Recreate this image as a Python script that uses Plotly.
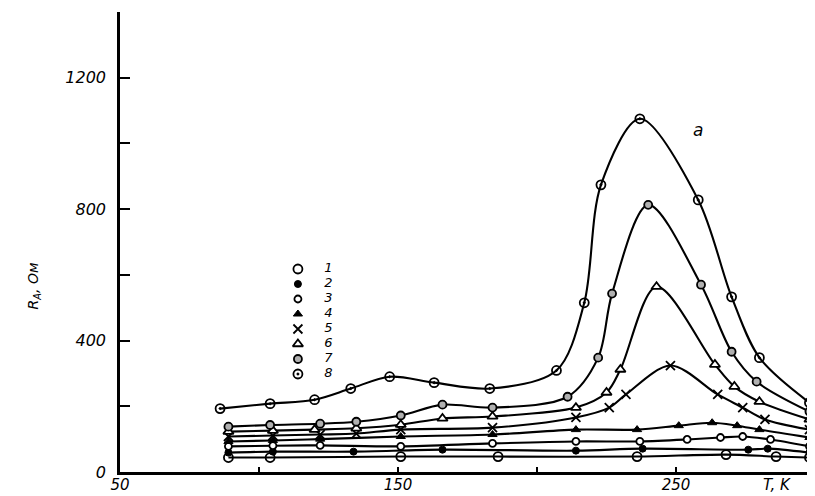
import plotly.graph_objects as go

# ---- data (T in K, R_A in Ohm) ----
T1 = [89, 104, 151, 186, 236, 268, 286, 298]
R1 = [44, 44, 47, 47, 47, 53, 47, 44]

T2 = [89, 105, 134, 166, 214, 238, 276, 283, 298]
R2 = [59, 62, 62, 68, 65, 71, 68, 71, 59]

T3 = [89, 105, 122, 151, 184, 214, 237, 254, 266, 274, 284, 298]
R3 = [78, 80, 81, 78, 87, 93, 93, 99, 105, 108, 99, 78]

T4 = [89, 105, 122, 151, 184, 214, 236, 251, 263, 272, 280, 298]
R4 = [93, 96, 100, 108, 114, 129, 129, 141, 150, 141, 129, 105]

T5 = [89, 105, 122, 135, 151, 184, 214, 226, 232, 248, 265, 274, 282, 298]
R5 = [108, 111, 114, 117, 129, 135, 166, 196, 236, 324, 236, 196, 160, 129]

T6 = [89, 105, 120, 135, 151, 166, 184, 214, 225, 230, 243, 264, 271, 280, 298]
R6 = [123, 126, 129, 133, 144, 163, 169, 196, 242, 312, 564, 327, 260, 214, 160]

T7 = [89, 104, 122, 135, 151, 166, 184, 211, 222, 227, 240, 259, 270, 279, 298]
R7 = [138, 143, 147, 153, 172, 205, 196, 229, 348, 543, 813, 570, 366, 275, 184]

T8 = [86, 104, 120, 133, 147, 163, 183, 207, 217, 223, 237, 258, 270, 280, 298]
R8 = [193, 208, 220, 254, 290, 272, 254, 309, 515, 874, 1075, 828, 533, 348, 211]

curve_labels = ["1", "2", "3", "4", "5", "6", "7", "8"]
x_tickvals = [50, 100, 150, 200, 250, 300]
x_ticktext = ["50", "", "150", "", "250", ""]
y_tickvals = [0, 200, 400, 600, 800, 1000, 1200, 1400]
y_ticktext = ["0", "", "400", "", "800", "", "1200", ""]

# ---- styles ----
series = [(T1, R1), (T2, R2), (T3, R3), (T4, R4), (T5, R5), (T6, R6), (T7, R7), (T8, R8)]
styles = [
    dict(symbol="circle-open", size=9, color="black", line=dict(color="black", width=1.8)),
    dict(symbol="circle", size=7, color="black", line=dict(color="black", width=1)),
    dict(symbol="circle", size=7, color="white", line=dict(color="black", width=1.8)),
    dict(symbol="triangle-up", size=8, color="black", line=dict(color="black", width=1)),
    dict(symbol="x-thin", size=9, color="black", line=dict(color="black", width=1.8)),
    dict(symbol="triangle-up", size=9, color="white", line=dict(color="black", width=1.8)),
    dict(symbol="circle", size=8, color="#b0b0b0", line=dict(color="black", width=1.8)),
    dict(symbol="circle-open-dot", size=9, color="black", line=dict(color="black", width=1.8)),
]

FONT = "DejaVu Sans"
fig = go.Figure()

for (tx, ry), st, lab in zip(series, styles, curve_labels):
    fig.add_trace(go.Scatter(
        x=tx, y=ry, mode="lines+markers", name=lab, showlegend=False,
        line=dict(color="black", width=2.1, shape="spline", smoothing=0.9),
        marker=st, cliponaxis=False,
    ))

# legend key drawn on hidden helper axes (axes fractions)
leg_x_sym = 0.256
leg_x_txt = 0.300
leg_y = [(460 - (257 + 15 * i)) / 460 for i in range(len(curve_labels))]
for i, (st, lab) in enumerate(zip(styles, curve_labels)):
    fig.add_trace(go.Scatter(
        x=[leg_x_sym], y=[leg_y[i]], xaxis="x2", yaxis="y2", mode="markers",
        marker=st, showlegend=False, hoverinfo="skip",
    ))
fig.add_trace(go.Scatter(
    x=[leg_x_txt] * len(curve_labels), y=leg_y, xaxis="x2", yaxis="y2",
    mode="text", text=curve_labels, showlegend=False, hoverinfo="skip",
    textfont=dict(family=FONT, size=13, color="black", style="italic"),
))

tickfont = dict(family=FONT, size=16, color="black", style="italic")
xtickfont = dict(family=FONT, size=15, color="black", style="italic")
# page body has an 8px margin, so the figure is sized/margined to compensate
fig.update_layout(
    width=807, height=488,
    margin=dict(l=112, r=0, t=4, b=24),
    paper_bgcolor="white", plot_bgcolor="white",
    showlegend=False,
    xaxis=dict(range=[50, 300], showline=True, linecolor="black", linewidth=2.5,
               ticks="inside", ticklen=5, tickwidth=1.5, tickcolor="black",
               tickvals=x_tickvals, ticktext=x_ticktext, showgrid=False,
               zeroline=False, tickfont=xtickfont, automargin=False,
               ticklabelstandoff=-3),
    yaxis=dict(range=[0, 1400], showline=True, linecolor="black", linewidth=2.5,
               ticks="inside", ticklen=10, tickwidth=1.5, tickcolor="black",
               tickvals=y_tickvals, ticktext=y_ticktext, showgrid=False,
               zeroline=False, tickfont=tickfont, automargin=False,
               ticklabelstandoff=8),
    xaxis2=dict(range=[0, 1], overlaying="x", visible=False),
    yaxis2=dict(range=[0, 1], overlaying="y", visible=False),
    annotations=[
        dict(text="T, K", xref="paper", yref="paper", x=0.968, y=0, yanchor="top",
             yshift=-2, showarrow=False, font=xtickfont),
        dict(text="а", xref="x", yref="y", x=258, y=1040, showarrow=False,
             font=dict(family=FONT, size=17, color="black", style="italic")),
        dict(text="R<sub>A</sub>, Ом", xref="paper", yref="paper", x=-0.14, y=0.405,
             textangle=-90, showarrow=False,
             font=dict(family=FONT, size=14, color="black", style="italic")),
    ],
)

fig.write_html("out.html")
